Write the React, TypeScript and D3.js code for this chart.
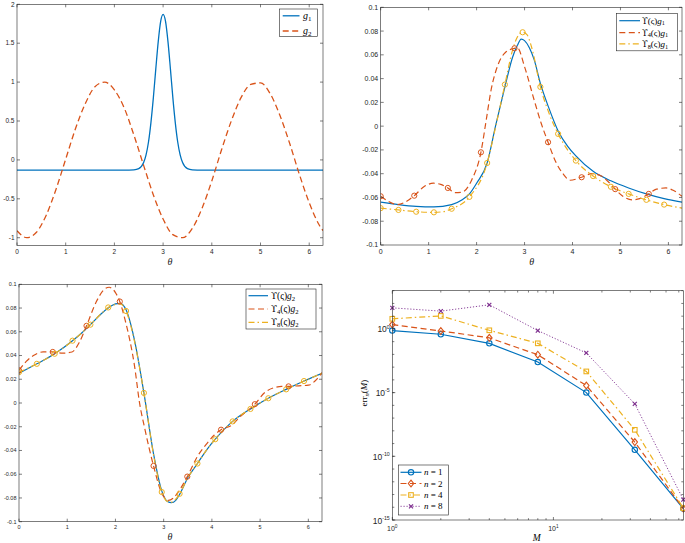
import React from 'react';
import * as d3 from 'd3';

const BLUE = '#0072BD';
const RED = '#D95319';
const YEL = '#EDB120';
const PUR = '#7E2F8E';
const AX = '#262626';
const TWO_PI = 6.2832;

// ---------- Panel 1 data ----------
const thetaG1 = [0, 2.3, 2.4, 2.5, 2.6, 2.65, 2.7, 2.75, 2.8, 2.85, 2.9, 2.95, 3.0, 3.05, 3.1, 3.15, 3.2, 3.25, 3.3, 3.35, 3.4, 3.5, 3.6, 3.7, TWO_PI];
const g1Vals = [-0.13, -0.13, -0.128, -0.113, -0.034, 0.065, 0.23, 0.48, 0.8, 1.17, 1.52, 1.78, 1.87, 1.78, 1.52, 1.17, 0.8, 0.48, 0.23, 0.065, -0.034, -0.113, -0.128, -0.13, -0.13];
const thetaG2 = [0, 0.2, 0.4, 0.6, 0.8, 1.0, 1.2, 1.4, 1.6, 1.8, 2.0, 2.2, 2.4, 2.6, 2.8, 3.0, 3.2, 3.4, 3.6, 3.8, 4.0, 4.2, 4.4, 4.6, 4.8, 5.0, 5.2, 5.4, 5.6, 5.8, 6.0, 6.2, TWO_PI];
const g2Vals = [-0.91, -1.0, -0.93, -0.71, -0.38, 0.01, 0.4, 0.72, 0.94, 1.0, 0.9, 0.67, 0.32, -0.07, -0.45, -0.76, -0.96, -1.0, -0.88, -0.62, -0.27, 0.13, 0.5, 0.8, 0.97, 0.99, 0.85, 0.57, 0.21, -0.19, -0.55, -0.83, -0.91];

// ---------- Panel 2 data ----------
const thetaU1 = [0, 0.37, 0.74, 1.11, 1.48, 1.7, 1.85, 2.0, 2.22, 2.4, 2.59, 2.75, 2.85, 2.93, 3.0, 3.1, 3.2, 3.33, 3.5, 3.7, 3.9, 4.07, 4.43, 4.8, 5.17, 5.54, 5.91, TWO_PI];
const u1Vals = [-0.064, -0.066, -0.0675, -0.068, -0.066, -0.062, -0.057, -0.048, -0.031, 0.001, 0.033, 0.058, 0.068, 0.0733, 0.072, 0.066, 0.056, 0.036, 0.016, -0.004, -0.017, -0.025, -0.038, -0.046, -0.052, -0.057, -0.061, -0.064];
const thetaU4g1 = [0, 0.15, 0.35, 0.55, 0.7, 0.9, 1.1, 1.25, 1.4, 1.55, 1.7, 1.9, 2.09, 2.2, 2.3, 2.45, 2.6, 2.79, 2.85, 3.0, 3.2, 3.35, 3.49, 3.65, 3.8, 3.95, 4.19, 4.4, 4.6, 4.75, 4.89, 5.05, 5.25, 5.4, 5.59, 5.75, 5.95, 6.1, TWO_PI];
const u4g1Vals = [-0.059, -0.063, -0.066, -0.063, -0.0585, -0.051, -0.048, -0.049, -0.052, -0.056, -0.0555, -0.045, -0.022, 0.005, 0.03, 0.052, 0.062, 0.0655, 0.066, 0.05, 0.022, 0.002, -0.0135, -0.03, -0.04, -0.0455, -0.043, -0.04, -0.042, -0.047, -0.053, -0.059, -0.062, -0.061, -0.057, -0.053, -0.052, -0.054, -0.059];
const mkTheta4 = [0, 0.7, 1.4, 2.09, 2.79, 3.49, 4.19, 4.89, 5.59];
const mk4g1 = [-0.059, -0.0585, -0.052, -0.022, 0.0655, -0.0135, -0.043, -0.053, -0.057];
const thetaU8g1 = [0, 0.37, 0.74, 1.11, 1.3, 1.48, 1.85, 2.22, 2.4, 2.59, 2.75, 2.85, 2.96, 3.05, 3.15, 3.33, 3.5, 3.7, 4.07, 4.43, 4.8, 5.17, 5.54, 5.91, TWO_PI];
const u8g1Vals = [-0.069, -0.0705, -0.072, -0.0725, -0.072, -0.0695, -0.0595, -0.031, 0.0, 0.035, 0.064, 0.075, 0.079, 0.077, 0.066, 0.033, 0.012, -0.0065, -0.029, -0.042, -0.051, -0.057, -0.062, -0.066, -0.069];
const mkTheta8 = [0, 0.37, 0.74, 1.11, 1.48, 1.85, 2.22, 2.59, 2.96, 3.33, 3.7, 4.07, 4.43, 4.8, 5.17, 5.54, 5.91];
const mk8g1 = [-0.069, -0.0705, -0.072, -0.0725, -0.0695, -0.0595, -0.031, 0.035, 0.079, 0.033, -0.0065, -0.029, -0.042, -0.051, -0.057, -0.062, -0.066];

// ---------- Panel 3 data ----------
const thetaU2 = [0, 0.37, 0.74, 1.11, 1.3, 1.48, 1.7, 1.85, 2.0, 2.1, 2.22, 2.4, 2.59, 2.8, 2.96, 3.08, 3.16, 3.25, 3.33, 3.5, 3.7, 3.9, 4.07, 4.43, 4.8, 5.17, 5.54, 5.91, TWO_PI];
const u2Vals = [0.025, 0.033, 0.0415, 0.0525, 0.059, 0.066, 0.075, 0.08, 0.0835, 0.084, 0.0785, 0.052, 0.0085, -0.045, -0.074, -0.083, -0.084, -0.082, -0.077, -0.063, -0.051, -0.039, -0.0305, -0.0155, -0.005, 0.004, 0.0115, 0.0185, 0.025];
const u8g2Vals = [0.026, 0.033, 0.0415, 0.0525, 0.059, 0.066, 0.075, 0.0805, 0.083, 0.0835, 0.0775, 0.051, 0.0085, -0.046, -0.075, -0.083, -0.0835, -0.081, -0.0765, -0.063, -0.051, -0.039, -0.0305, -0.0155, -0.005, 0.004, 0.0115, 0.0185, 0.025];
const mk8g2 = [0.026, 0.033, 0.0415, 0.0525, 0.066, 0.0805, 0.0775, 0.0085, -0.075, -0.0765, -0.051, -0.0305, -0.0155, -0.005, 0.004, 0.0115, 0.0185];
const thetaU4g2 = [0, 0.15, 0.3, 0.5, 0.7, 0.9, 1.1, 1.25, 1.4, 1.6, 1.75, 1.87, 2.0, 2.09, 2.2, 2.4, 2.5, 2.6, 2.79, 2.95, 3.1, 3.2, 3.35, 3.49, 3.7, 3.9, 4.05, 4.19, 4.4, 4.6, 4.89, 5.1, 5.3, 5.45, 5.59, 5.8, 6.0, 6.15, TWO_PI];
const u4g2Vals = [0.0275, 0.035, 0.04, 0.043, 0.043, 0.042, 0.043, 0.051, 0.065, 0.085, 0.095, 0.0975, 0.093, 0.0855, 0.07, 0.03, 0.0, -0.02, -0.053, -0.075, -0.082, -0.08, -0.072, -0.062, -0.045, -0.034, -0.027, -0.0225, -0.019, -0.011, -0.001, 0.009, 0.013, 0.014, 0.014, 0.0145, 0.015, 0.019, 0.0255];
const mk4g2 = [0.0275, 0.043, 0.065, 0.0855, -0.053, -0.062, -0.0225, -0.001, 0.014];

// ---------- Panel 4 data ----------
const Mvals = [1, 2, 4, 8, 16, 32, 64];
const errN1 = [0.74, 0.38, 0.074, 2.5e-3, 1e-5, 3.2e-10, 7.9e-15];
const errN2 = [2.2, 0.69, 0.2, 9.5e-3, 3.6e-5, 1.3e-9, 7.9e-15];
const errN4 = [6.2, 10.5, 0.78, 0.074, 4.6e-4, 1.2e-8, 8.5e-15];
const errN8 = [45, 25, 78, 0.74, 0.013, 1.3e-6, 4e-14];

const thetaTicks = [0, 1, 2, 3, 4, 5, 6];
const g12Ticks = [-1, -0.5, 0, 0.5, 1, 1.5, 2];
const smallTicks = [-0.1, -0.08, -0.06, -0.04, -0.02, 0, 0.02, 0.04, 0.06, 0.08, 0.1];
const errExpTicks = [-15, -10, -5, 0];

const fmt = (v: number) => (Math.abs(v) < 1e-12 ? '0' : String(+v.toFixed(2)));
const SANS = 'Liberation Sans, Arial, sans-serif';
const SERIF = 'Liberation Serif, Times New Roman, serif';
const MATH = 'DejaVu Serif, Liberation Serif, serif';

type Box = { l: number; r: number; t: number; b: number };

function Frame({ box, xs, ys, xticks, yticks, fs }: any) {
  const tl = 3;
  return (
    <g>
      <rect x={box.l} y={box.t} width={box.r - box.l} height={box.b - box.t} fill="none" stroke={AX} strokeWidth={0.6} />
      {xticks.map((v: number) => (
        <g key={'x' + v}>
          <line x1={xs(v)} x2={xs(v)} y1={box.b} y2={box.b - tl} stroke={AX} strokeWidth={0.6} />
          <line x1={xs(v)} x2={xs(v)} y1={box.t} y2={box.t + tl} stroke={AX} strokeWidth={0.6} />
          <text x={xs(v)} y={box.b + 3 + fs * 0.8} fontSize={fs} textAnchor="middle" fill={AX} fontFamily={SANS}>{fmt(v)}</text>
        </g>
      ))}
      {yticks.map((v: number) => (
        <g key={'y' + v}>
          <line x1={box.l} x2={box.l + tl} y1={ys(v)} y2={ys(v)} stroke={AX} strokeWidth={0.6} />
          <line x1={box.r} x2={box.r - tl} y1={ys(v)} y2={ys(v)} stroke={AX} strokeWidth={0.6} />
          <text x={box.l - 2.5} y={ys(v)} dy="0.35em" fontSize={fs} textAnchor="end" fill={AX} fontFamily={SANS}>{fmt(v)}</text>
        </g>
      ))}
    </g>
  );
}

function ThetaLabel({ x, y, fs }: any) {
  return <text x={x} y={y} fontSize={fs} fontStyle="italic" textAnchor="middle" fill={AX} fontFamily={SERIF}>θ</text>;
}

function UpsLabel({ x, y, fs, sub, g }: any) {
  const ss = fs * 0.7;
  return (
    <text x={x} y={y} fontSize={fs} fill="#000" fontFamily={SERIF}>
      <tspan fontFamily={MATH} fontSize={fs * 0.92}>ϒ</tspan>
      {sub ? <tspan fontSize={ss} dy={fs * 0.22}>{sub}</tspan> : null}
      <tspan dy={sub ? -fs * 0.22 : 0}>(ς)</tspan>
      <tspan fontStyle="italic">g</tspan>
      <tspan fontSize={ss} dy={fs * 0.22}>{g}</tspan>
    </text>
  );
}

function lineOf(xs: any, ys: any, xv: number[], yv: number[]) {
  const gen = d3.line<number>().x((_, i) => xs(xv[i])).y((d) => ys(d)).curve(d3.curveMonotoneX);
  return gen(yv) || '';
}

function Panel1() {
  const box: Box = { l: 17, r: 323, t: 4.3, b: 245.5 };
  const xs = d3.scaleLinear().domain([0, TWO_PI]).range([box.l, box.r]);
  const ys = d3.scaleLinear().domain([-1.1, 2]).range([box.b, box.t]);
  return (
    <g>
      <defs><clipPath id="c1"><rect x={box.l} y={box.t} width={box.r - box.l} height={box.b - box.t} /></clipPath></defs>
      <g clipPath="url(#c1)">
        <path d={lineOf(xs, ys, thetaG1, g1Vals)} fill="none" stroke={BLUE} strokeWidth={1.3} />
        <path d={lineOf(xs, ys, thetaG2, g2Vals)} fill="none" stroke={RED} strokeWidth={1.3} strokeDasharray="6,3.5" />
      </g>
      <Frame box={box} xs={xs} ys={ys} xticks={thetaTicks} yticks={g12Ticks} fs={6.5} />
      <ThetaLabel x={170} y={265} fs={10} />
      <rect x={279.5} y={9} width={38} height={27.5} fill="#fff" stroke={AX} strokeWidth={0.6} />
      <line x1={282.7} x2={299.5} y1={15.8} y2={15.8} stroke={BLUE} strokeWidth={1.3} />
      <line x1={282.7} x2={299.5} y1={31} y2={31} stroke={RED} strokeWidth={1.3} strokeDasharray="6,3.5" />
      <text x={303} y={18.5} fontSize={10} fontFamily={SERIF}><tspan fontStyle="italic">g</tspan><tspan fontSize={7} dy={2}>1</tspan></text>
      <text x={303} y={33.5} fontSize={10} fontFamily={SERIF}><tspan fontStyle="italic">g</tspan><tspan fontSize={7} dy={2}>2</tspan></text>
    </g>
  );
}

function circles(xs: any, ys: any, xv: number[], yv: number[], color: string, key: string) {
  return yv.map((v, i) => (
    <circle key={key + i} cx={xs(xv[i])} cy={ys(v)} r={2.6} fill="none" stroke={color} strokeWidth={1} />
  ));
}

function Panel2() {
  const box: Box = { l: 380.7, r: 682, t: 7.3, b: 245 };
  const xs = d3.scaleLinear().domain([0, TWO_PI]).range([box.l, box.r]);
  const ys = d3.scaleLinear().domain([-0.1, 0.1]).range([box.b, box.t]);
  return (
    <g>
      <defs><clipPath id="c2"><rect x={box.l} y={box.t} width={box.r - box.l} height={box.b - box.t} /></clipPath></defs>
      <g clipPath="url(#c2)">
        <path d={lineOf(xs, ys, thetaU1, u1Vals)} fill="none" stroke={BLUE} strokeWidth={1.2} />
        <path d={lineOf(xs, ys, thetaU4g1, u4g1Vals)} fill="none" stroke={RED} strokeWidth={1.2} strokeDasharray="6,3.5" />
        <path d={lineOf(xs, ys, thetaU8g1, u8g1Vals)} fill="none" stroke={YEL} strokeWidth={1.2} strokeDasharray="6,3,1.5,3" />
        {circles(xs, ys, mkTheta4, mk4g1, RED, 'r')}
        {circles(xs, ys, mkTheta8, mk8g1, YEL, 'y')}
      </g>
      <Frame box={box} xs={xs} ys={ys} xticks={thetaTicks} yticks={smallTicks} fs={7} />
      <ThetaLabel x={531.7} y={265} fs={10} />
      <rect x={616.5} y={13.3} width={61} height={37.5} fill="#fff" stroke={AX} strokeWidth={0.6} />
      <line x1={619.3} x2={640} y1={20.7} y2={20.7} stroke={BLUE} strokeWidth={1.2} />
      <line x1={619.3} x2={640} y1={32.7} y2={32.7} stroke={RED} strokeWidth={1.2} strokeDasharray="6,3.5" />
      <line x1={619.3} x2={640} y1={43.8} y2={43.8} stroke={YEL} strokeWidth={1.2} strokeDasharray="6,3,1.5,3" />
      <UpsLabel x={642} y={23.5} fs={9} g="1" />
      <UpsLabel x={642} y={35.5} fs={9} sub="4" g="1" />
      <UpsLabel x={642} y={46.6} fs={9} sub="8" g="1" />
    </g>
  );
}

function Panel3() {
  const box: Box = { l: 19, r: 322, t: 284.3, b: 521.7 };
  const xs = d3.scaleLinear().domain([0, TWO_PI]).range([box.l, box.r]);
  const ys = d3.scaleLinear().domain([-0.1, 0.1]).range([box.b, box.t]);
  return (
    <g>
      <defs><clipPath id="c3"><rect x={box.l} y={box.t} width={box.r - box.l} height={box.b - box.t} /></clipPath></defs>
      <g clipPath="url(#c3)">
        <path d={lineOf(xs, ys, thetaU2, u2Vals)} fill="none" stroke={BLUE} strokeWidth={1.2} />
        <path d={lineOf(xs, ys, thetaU4g2, u4g2Vals)} fill="none" stroke={RED} strokeWidth={1.2} strokeDasharray="6,3.5" />
        <path d={lineOf(xs, ys, thetaU2, u8g2Vals)} fill="none" stroke={YEL} strokeWidth={1.2} strokeDasharray="6,3,1.5,3" />
        {circles(xs, ys, mkTheta4, mk4g2, RED, 'r')}
        {circles(xs, ys, mkTheta8, mk8g2, YEL, 'y')}
      </g>
      <Frame box={box} xs={xs} ys={ys} xticks={thetaTicks} yticks={smallTicks} fs={5.5} />
      <ThetaLabel x={170} y={540} fs={10} />
      <rect x={246} y={289} width={70} height={40} fill="#fff" stroke={AX} strokeWidth={0.6} />
      <line x1={248.5} x2={268} y1={295.7} y2={295.7} stroke={BLUE} strokeWidth={1.2} />
      <line x1={248.5} x2={268} y1={309} y2={309} stroke={RED} strokeWidth={1.2} strokeDasharray="6,3.5" />
      <line x1={248.5} x2={268} y1={322.3} y2={322.3} stroke={YEL} strokeWidth={1.2} strokeDasharray="6,3,1.5,3" />
      <UpsLabel x={271} y={298.6} fs={9.5} g="2" />
      <UpsLabel x={271} y={311.9} fs={9.5} sub="4" g="2" />
      <UpsLabel x={271} y={325.2} fs={9.5} sub="8" g="2" />
    </g>
  );
}

function Marker({ type, x, y, color }: any) {
  if (type === 'o') return <circle cx={x} cy={y} r={2.7} fill="none" stroke={color} strokeWidth={1.1} />;
  if (type === 'd') return <path d={`M${x},${y - 3.4}L${x + 2.7},${y}L${x},${y + 3.4}L${x - 2.7},${y}Z`} fill="none" stroke={color} strokeWidth={1.1} />;
  if (type === 's') return <rect x={x - 2.3} y={y - 2.3} width={4.6} height={4.6} fill="none" stroke={color} strokeWidth={1.1} />;
  return <path d={`M${x - 2},${y - 2}L${x + 2},${y + 2}M${x - 2},${y + 2}L${x + 2},${y - 2}`} stroke={color} strokeWidth={1.2} />;
}

function Panel4() {
  const box: Box = { l: 392.3, r: 683.3, t: 290.7, b: 520 };
  const xs = d3.scaleLog().domain([1, 64]).range([box.l, box.r]);
  const ys = d3.scaleLog().domain([1e-15, 1e3]).range([box.b, box.t]);
  const series = [
    { v: errN1, c: BLUE, dash: undefined, m: 'o', lab: '1' },
    { v: errN2, c: RED, dash: '6,3.5', m: 'd', lab: '2' },
    { v: errN4, c: YEL, dash: '6,3,1.5,3', m: 's', lab: '4' },
    { v: errN8, c: PUR, dash: '1.2,1.8', m: 'x', lab: '8' },
  ];
  const xMinor = [2, 3, 4, 5, 6, 7, 8, 9, 20, 30, 40, 50, 60];
  const yDec = d3.range(-15, 4).map((e) => Math.pow(10, e));
  const fsx = 7;
  const fsy = 8.5;
  const gen = d3.line<number>().x((_, i) => xs(Mvals[i])).y((d) => ys(d));
  return (
    <g>
      <defs><clipPath id="c4"><rect x={box.l - 4} y={box.t} width={box.r - box.l + 8} height={box.b - box.t + 4} /></clipPath></defs>
      <g clipPath="url(#c4)">
        {series.map((s, k) => (
          <g key={k}>
            <path d={gen(s.v) || ''} fill="none" stroke={s.c} strokeWidth={s.m === 'x' ? 0.9 : 1.2} strokeDasharray={s.dash} />
            {s.v.map((v, i) => <Marker key={i} type={s.m} x={xs(Mvals[i])} y={ys(v)} color={s.c} />)}
          </g>
        ))}
      </g>
      <rect x={box.l} y={box.t} width={box.r - box.l} height={box.b - box.t} fill="none" stroke={AX} strokeWidth={0.6} />
      {xMinor.map((v) => (
        <g key={'xm' + v}>
          <line x1={xs(v)} x2={xs(v)} y1={box.b} y2={box.b - 1.8} stroke={AX} strokeWidth={0.6} />
          <line x1={xs(v)} x2={xs(v)} y1={box.t} y2={box.t + 1.8} stroke={AX} strokeWidth={0.6} />
        </g>
      ))}
      {[1, 10].map((v, i) => (
        <g key={'xM' + v}>
          <line x1={xs(v)} x2={xs(v)} y1={box.b} y2={box.b - 3} stroke={AX} strokeWidth={0.6} />
          <line x1={xs(v)} x2={xs(v)} y1={box.t} y2={box.t + 3} stroke={AX} strokeWidth={0.6} />
          <text x={xs(v)} y={box.b + 11} fontSize={fsx} textAnchor="middle" fill={AX} fontFamily={SANS}>
            10<tspan fontSize={fsx * 0.68} dy={-fsx * 0.45}>{i}</tspan>
          </text>
        </g>
      ))}
      {yDec.map((v, i) => (
        <g key={'yd' + i}>
          <line x1={box.l} x2={box.l + 2} y1={ys(v)} y2={ys(v)} stroke={AX} strokeWidth={0.6} />
          <line x1={box.r} x2={box.r - 2} y1={ys(v)} y2={ys(v)} stroke={AX} strokeWidth={0.6} />
        </g>
      ))}
      {errExpTicks.map((e) => (
        <g key={'ye' + e}>
          <line x1={box.l} x2={box.l + 3} y1={ys(Math.pow(10, e))} y2={ys(Math.pow(10, e))} stroke={AX} strokeWidth={0.6} />
          <text x={box.l - 2.5} y={ys(Math.pow(10, e)) + 3.5} fontSize={fsy} textAnchor="end" fill={AX} fontFamily={SANS}>
            10<tspan fontSize={fsy * 0.62} dy={-fsy * 0.45}>{String(e)}</tspan>
          </text>
        </g>
      ))}
      <text transform="translate(367,393) rotate(-90)" fontSize={9} textAnchor="middle" fill="#000" fontFamily={SERIF}>
        err<tspan fontSize={6.5} dy={2} fontStyle="italic">n</tspan><tspan dy={-2}>(</tspan><tspan fontStyle="italic">M</tspan>)
      </text>
      <text x={536.7} y={541} fontSize={9.5} fontStyle="italic" textAnchor="middle" fill="#000" fontFamily={SERIF}>M</text>
      <rect x={398.3} y={465} width={50} height={50} fill="#fff" stroke={AX} strokeWidth={0.6} />
      {series.map((s, k) => {
        const yy = [472.3, 483.5, 495, 506.3][k];
        return (
          <g key={'lg' + k}>
            <line x1={400.5} x2={421.5} y1={yy} y2={yy} stroke={s.c} strokeWidth={s.m === 'x' ? 0.9 : 1.2} strokeDasharray={s.dash} />
            <Marker type={s.m} x={411} y={yy} color={s.c} />
            <text x={424} y={yy + 3} fontSize={9} fontFamily={SERIF} fill="#000">
              <tspan fontStyle="italic">n</tspan> = {s.lab}
            </text>
          </g>
        );
      })}
    </g>
  );
}

export default function App() {
  return (
    <svg width={685} height={543} viewBox="0 0 685 543" style={{ position: 'absolute', left: 0, top: 0, background: '#fff' }}>
      <rect width={685} height={543} fill="#fff" />
      <Panel1 />
      <Panel2 />
      <Panel3 />
      <Panel4 />
    </svg>
  );
}
